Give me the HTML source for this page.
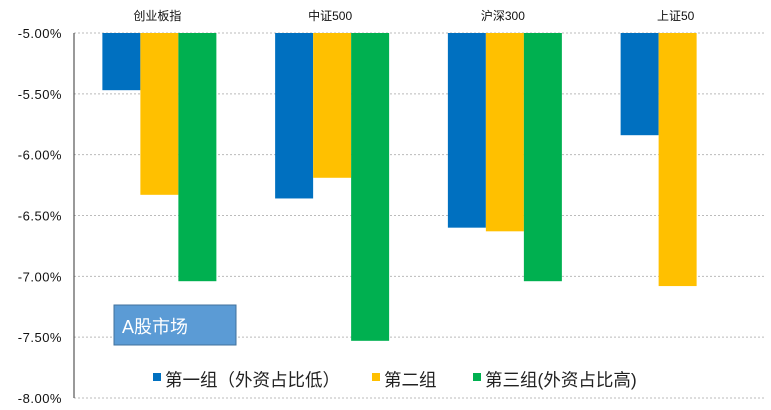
<!DOCTYPE html>
<html><head><meta charset="utf-8"><style>
body{margin:0;background:#fff;font-family:"Liberation Sans","Noto Sans CJK SC",sans-serif;}
svg text{font-family:"Liberation Sans","Noto Sans CJK SC",sans-serif;}
</style></head><body>
<svg id="c" width="771" height="405"></svg>
<script>
const categories=["创业板指","中证500","沪深300","上证50"];
const group1=[-5.47,-6.36,-6.60,-5.84];
const group2=[-6.33,-6.19,-6.63,-7.08];
const group3=[-7.04,-7.53,-7.04,null];
const ticks=[-5.0,-5.5,-6.0,-6.5,-7.0,-7.5,-8.0];
const seriesNames=["第一组（外资占比低）","第二组","第三组(外资占比高)"];
const colors=["#0070C0","#FFC000","#00B050"];
const svg=document.getElementById('c');const NS="http://www.w3.org/2000/svg";
const x0=74,x1=765,yTop=33,yBot=398;
const y=v=>yTop+(-5-v)/3*(yBot-yTop);
const cw=(x1-x0)/categories.length;
function mk(t,a,p){const e=document.createElementNS(NS,t);for(const k in a)e.setAttribute(k,a[k]);(p||svg).appendChild(e);return e;}
ticks.forEach(t=>{
 const g=mk('line',{x1:x0,x2:x1,y1:y(t),y2:y(t),stroke:'#bbb','stroke-dasharray':'2,2'});
 
 
 const l=mk('text',{x:62,y:y(t)+5,'text-anchor':'end','font-size':13,fill:'#111','letter-spacing':'0.5'});l.textContent=t.toFixed(2)+'%';
 
 
});
const ax=mk('line',{x1:x0,x2:x0,y1:yTop,y2:yBot,stroke:'#333'});


const series=[group1,group2,group3];
categories.forEach((c,i)=>{
 const cx=x0+cw*i+cw/2;
 const t=mk('text',{x:cx-3,y:20,'text-anchor':'middle','font-size':12,fill:'#111'});t.textContent=c;
 
 
 series.forEach((s,j)=>{
  if(s[i]==null)return;
  const b=mk('rect',{x:cx-58+j*38,y:yTop,width:38,height:y(s[i])-yTop,fill:colors[j]});
  
  
 });
});
const box=mk('rect',{x:114,y:305,width:122,height:40,fill:'#5B9BD5',stroke:'#41719C'});


const bt=mk('text',{x:122,y:333,'font-size':18,fill:'#fff'});bt.textContent='A股市场';


const lx=[153,372,473];
seriesNames.forEach((n,j)=>{
 const r=mk('rect',{x:lx[j],y:373,width:8,height:8,fill:colors[j]});
 
 
 const t=mk('text',{x:lx[j]+12,y:386,'font-size':17.5,fill:'#222'});t.textContent=n;
 
 
});
</script>
</body></html>
